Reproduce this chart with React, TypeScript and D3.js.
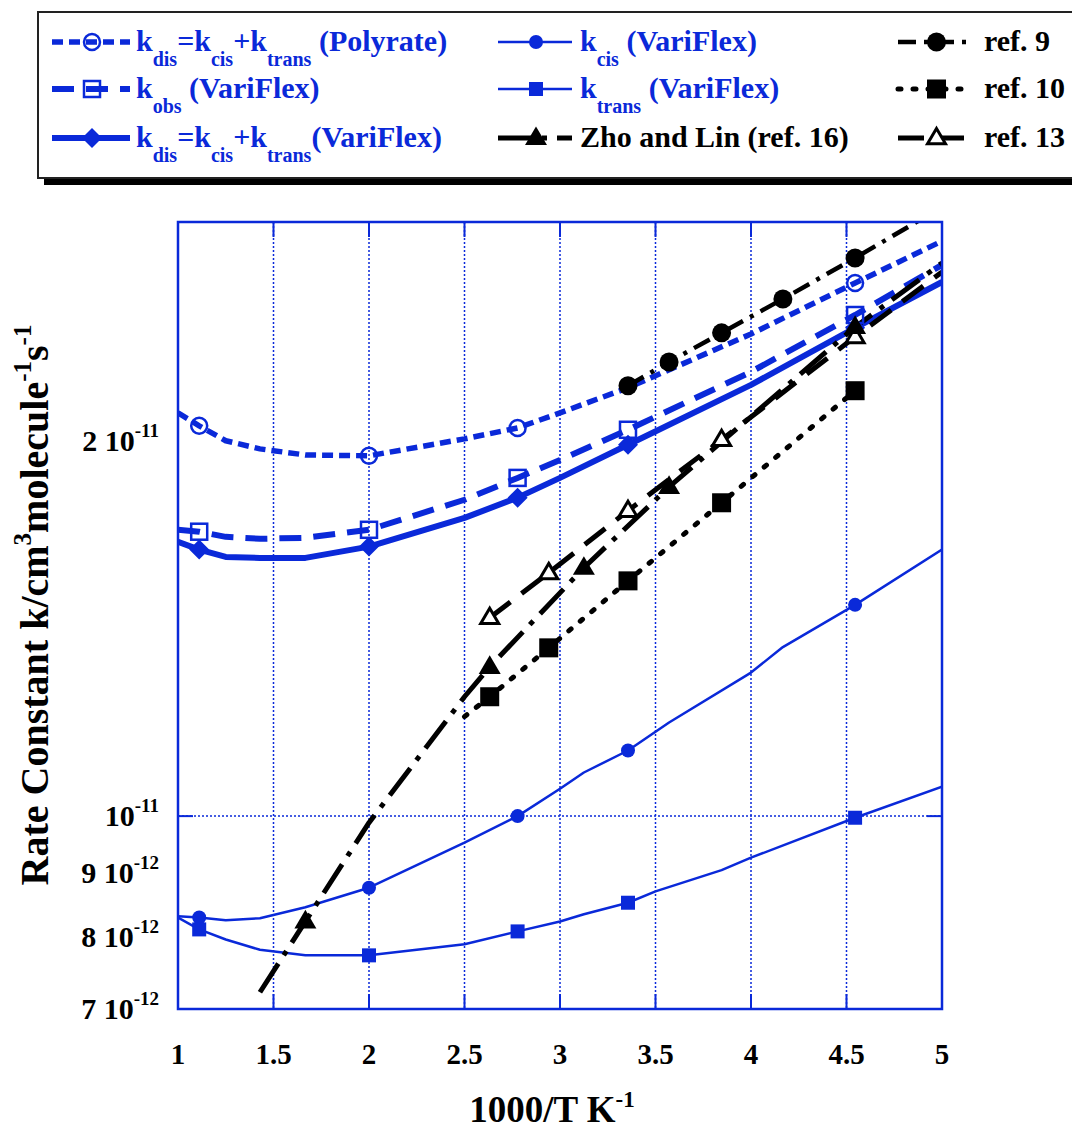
import React from "react";
import * as d3 from "d3";

// x = 1000/T (K^-1), y = rate constant (cm3 molecule-1 s-1)
const polyX = [1.0, 1.111, 1.25, 1.429, 1.667, 2.0, 2.5, 2.778, 3.0, 3.356, 4.0, 4.545, 5.0];
const polyY = [2.108e-11, 2.058e-11, 2.002e-11, 1.972e-11, 1.95e-11, 1.947e-11, 2.009e-11, 2.05e-11, 2.108e-11, 2.208e-11, 2.439e-11, 2.68e-11, 2.896e-11];
const polyMarks = [1.111, 2.0, 2.778, 4.545];

const kobsX = [1.0, 1.111, 1.25, 1.429, 1.667, 2.0, 2.5, 2.778, 3.0, 3.356, 4.0, 4.545, 5.0];
const kobsY = [1.698e-11, 1.692e-11, 1.676e-11, 1.67e-11, 1.673e-11, 1.698e-11, 1.795e-11, 1.869e-11, 1.932e-11, 2.043e-11, 2.274e-11, 2.526e-11, 2.771e-11];
const kobsMarks = [1.111, 2.0, 2.778, 3.356, 4.545];

const kdisX = [1.0, 1.111, 1.25, 1.429, 1.667, 2.0, 2.5, 2.778, 3.0, 3.356, 4.0, 4.545, 5.0];
const kdisY = [1.661e-11, 1.637e-11, 1.615e-11, 1.612e-11, 1.612e-11, 1.646e-11, 1.736e-11, 1.802e-11, 1.869e-11, 1.987e-11, 2.22e-11, 2.467e-11, 2.685e-11];
const kdisMarks = [1.111, 2.0, 2.778, 3.356, 4.545];

const kcisX = [1.0, 1.111, 1.25, 1.429, 1.667, 2.0, 2.5, 2.778, 3.0, 3.125, 3.356, 3.571, 4.0, 4.167, 4.545, 5.0];
const kcisY = [0.831e-11, 0.829e-11, 0.825e-11, 0.828e-11, 0.845e-11, 0.876e-11, 0.952e-11, 1.0e-11, 1.052e-11, 1.084e-11, 1.129e-11, 1.189e-11, 1.304e-11, 1.367e-11, 1.478e-11, 1.637e-11];
const kcisMarks = [1.111, 2.0, 2.778, 3.356, 4.545];

const ktransX = [1.0, 1.111, 1.25, 1.429, 1.667, 2.0, 2.5, 2.778, 3.0, 3.125, 3.356, 3.5, 3.846, 4.0, 4.545, 5.0];
const ktransY = [0.829e-11, 0.811e-11, 0.796e-11, 0.781e-11, 0.773e-11, 0.773e-11, 0.789e-11, 0.808e-11, 0.823e-11, 0.834e-11, 0.852e-11, 0.87e-11, 0.905e-11, 0.926e-11, 0.997e-11, 1.056e-11];
const ktransMarks = [1.111, 2.0, 2.778, 3.356, 4.545];

const ref9X = [3.356, 3.571, 3.846, 4.167, 4.545, 5.0];
const ref9Y = [2.216e-11, 2.316e-11, 2.444e-11, 2.602e-11, 2.807e-11, 3.084e-11];
const ref9Marks = [3.356, 3.571, 3.846, 4.167, 4.545];

const ref10X = [2.5, 2.632, 2.941, 3.356, 3.846, 4.545];
const ref10Y = [1.202e-11, 1.247e-11, 1.365e-11, 1.545e-11, 1.785e-11, 2.196e-11];
const ref10Marks = [2.632, 2.941, 3.356, 3.846, 4.545];

const ref13X = [2.632, 2.941, 3.356, 3.846, 4.545, 5.0];
const ref13Y = [1.443e-11, 1.568e-11, 1.759e-11, 2.006e-11, 2.426e-11, 2.735e-11];
const ref13Marks = [2.632, 2.941, 3.356, 3.846, 4.545];

const ref16X = [1.429, 1.667, 2.0, 2.5, 2.632, 3.125, 3.571, 4.545, 5.0];
const ref16Y = [0.722e-11, 0.823e-11, 0.988e-11, 1.247e-11, 1.318e-11, 1.583e-11, 1.838e-11, 2.471e-11, 2.781e-11];
const ref16Marks = [1.667, 2.632, 3.125, 3.571, 4.545];

const xTicks = [1, 1.5, 2, 2.5, 3, 3.5, 4, 4.5, 5];
const xGrid = [1.5, 2, 2.5, 3, 3.5, 4, 4.5];
const yTickVals = [2e-11, 1e-11, 9e-12, 8e-12, 7e-12];
const yTickMant = ["2 10", "10", "9 10", "8 10", "7 10"];
const yTickExp = ["-11", "-11", "-12", "-12", "-12"];
const yGrid = [1e-11];

const BLUE = "#0a29d9";
const FONT = "'Liberation Serif', 'Times New Roman', serif";

const W = 1072;
const H = 1129;
const plot = { left: 178, right: 942, top: 222, bottom: 1009 };

const x = d3.scaleLinear().domain([1, 5]).range([plot.left, plot.right]);
const y = d3.scaleLog().domain([7e-12, 3e-11]).range([plot.bottom, plot.top]);

type Part = [string, string?];

function Rich({ parts, px, py, size, small, shift, fill, anchor = "start" }: any) {
  let cur = 0;
  return (
    <text x={px} y={py} fontSize={size} fill={fill} textAnchor={anchor} fontFamily={FONT} fontWeight="bold" style={{ whiteSpace: "pre" }}>
      {parts.map((p: Part, i: number) => {
        const target = p[1] === "sub" ? shift : p[1] === "sup" ? -shift : 0;
        const dy = target - cur;
        cur = target;
        return (
          <tspan key={i} dy={dy} fontSize={p[1] ? small : size}>
            {p[0]}
          </tspan>
        );
      })}
    </text>
  );
}

function Marker({ kind, cx, cy, size, fill, stroke, sw }: any) {
  if (kind === "circle") return <circle cx={cx} cy={cy} r={size} fill={fill} stroke={stroke} strokeWidth={sw} />;
  if (kind === "square")
    return <rect x={cx - size} y={cy - size} width={size * 2} height={size * 2} fill={fill} stroke={stroke} strokeWidth={sw} />;
  if (kind === "diamond")
    return <path d={`M${cx},${cy - size}L${cx + size},${cy}L${cx},${cy + size}L${cx - size},${cy}Z`} fill={fill} stroke={stroke} strokeWidth={sw} />;
  const h = size * 1.7;
  return (
    <path
      d={`M${cx},${cy - h * 0.62}L${cx + size},${cy + h * 0.38}L${cx - size},${cy + h * 0.38}Z`}
      fill={fill}
      stroke={stroke}
      strokeWidth={sw}
      strokeLinejoin="miter"
    />
  );
}

const series: any[] = [
  { id: "kcis", xs: kcisX, ys: kcisY, marks: kcisMarks, color: BLUE, width: 2.5, dash: null, cap: "butt", kind: "circle", size: 7, fill: BLUE, sw: 0,
    label: [["k"], ["cis", "sub"], [" (VariFlex)"]] },
  { id: "ktrans", xs: ktransX, ys: ktransY, marks: ktransMarks, color: BLUE, width: 2.5, dash: null, cap: "butt", kind: "square", size: 7, fill: BLUE, sw: 0,
    label: [["k"], ["trans", "sub"], [" (VariFlex)"]] },
  { id: "kdis", xs: kdisX, ys: kdisY, marks: kdisMarks, color: BLUE, width: 6, dash: null, cap: "butt", kind: "diamond", size: 10, fill: BLUE, sw: 0,
    label: [["k"], ["dis", "sub"], ["=k"], ["cis", "sub"], ["+k"], ["trans", "sub"], ["(VariFlex)"]] },
  { id: "kobs", xs: kobsX, ys: kobsY, marks: kobsMarks, color: BLUE, width: 6, dash: "22,12", cap: "butt", kind: "square", size: 8, fill: "none", sw: 2.5,
    label: [["k"], ["obs", "sub"], [" (VariFlex)"]] },
  { id: "poly", xs: polyX, ys: polyY, marks: polyMarks, color: BLUE, width: 5.5, dash: "11,6", cap: "butt", kind: "circle", size: 8, fill: "none", sw: 2.5,
    label: [["k"], ["dis", "sub"], ["=k"], ["cis", "sub"], ["+k"], ["trans", "sub"], [" (Polyrate)"]] },
  { id: "ref10", xs: ref10X, ys: ref10Y, marks: ref10Marks, color: "#000", width: 5, dash: "3,12", cap: "round", kind: "square", size: 9.5, fill: "#000", sw: 0,
    label: [["ref. 10"]] },
  { id: "ref13", xs: ref13X, ys: ref13Y, marks: ref13Marks, color: "#000", width: 5, dash: "26,14", cap: "butt", kind: "triangle", size: 9, fill: "#fff", sw: 3,
    label: [["ref. 13"]] },
  { id: "ref16", xs: ref16X, ys: ref16Y, marks: ref16Marks, color: "#000", width: 5, dash: "34,10,5,10", cap: "butt", kind: "triangle", size: 11, fill: "#000", sw: 0,
    label: [["Zho and Lin (ref. 16)"]] },
  { id: "ref9", xs: ref9X, ys: ref9Y, marks: ref9Marks, color: "#000", width: 4.5, dash: "18,8,4,8", cap: "butt", kind: "circle", size: 9.5, fill: "#000", sw: 0,
    label: [["ref. 9"]] },
];

const byId = (id: string) => series.find((s) => s.id === id);

// legend placement: three columns of three rows
const legendCols = [
  { ids: ["poly", "kobs", "kdis"], x1: 52, x2: 130, tx: 136, fill: BLUE },
  { ids: ["kcis", "ktrans", "ref16"], x1: 498, x2: 572, tx: 580, fill: null },
  { ids: ["ref9", "ref10", "ref13"], x1: 898, x2: 973, tx: 984, fill: "#000" },
];
const legendRows = [42, 89, 138];

export default function App() {
  const line = d3
    .line<[number, number]>()
    .x((d) => x(d[0]))
    .y((d) => y(d[1]));

  return (
    <svg width={W} height={H} style={{ position: "absolute", left: 0, top: 0, background: "#fff" }}>
      <defs>
        <clipPath id="plotClip">
          <rect x={plot.left} y={plot.top} width={plot.right - plot.left} height={plot.bottom - plot.top} />
        </clipPath>
      </defs>

      {/* legend box with drop shadow */}
      <rect x={44} y={18} width={1060} height={167} fill="#000" />
      <rect x={38} y={12} width={1060} height={166} fill="#fff" stroke="#222" strokeWidth={2} />
      {legendCols.map((col, ci) =>
        col.ids.map((id, ri) => {
          const s = byId(id);
          const ly = legendRows[ri];
          const cx = (col.x1 + col.x2) / 2 + 1;
          return (
            <g key={`${ci}-${ri}`}>
              <line x1={col.x1} x2={col.x2} y1={ly} y2={ly} stroke={s.color} strokeWidth={s.width} strokeDasharray={s.dash || undefined} strokeLinecap={s.cap} />
              <Marker kind={s.kind} cx={cx} cy={ly} size={s.size} fill={s.fill} stroke={s.color} sw={s.sw} />
              <Rich parts={s.label} px={col.tx} py={ly + 9} size={30} small={20} shift={15} fill={col.fill || s.color} />
            </g>
          );
        })
      )}

      {/* grid */}
      {xGrid.map((v) => (
        <g key={`gx${v}`}>
          <line x1={x(v)} x2={x(v)} y1={plot.top} y2={plot.bottom} stroke={BLUE} strokeWidth={1.5} strokeDasharray="2,2" />
          <line x1={x(v)} x2={x(v)} y1={plot.bottom} y2={plot.bottom - 15} stroke={BLUE} strokeWidth={2} />
          <line x1={x(v)} x2={x(v)} y1={plot.top} y2={plot.top + 15} stroke={BLUE} strokeWidth={2} />
        </g>
      ))}
      {yGrid.map((v) => (
        <g key={`gy${v}`}>
          <line x1={plot.left} x2={plot.right} y1={y(v)} y2={y(v)} stroke={BLUE} strokeWidth={1.5} strokeDasharray="2,2" />
          <line x1={plot.left} x2={plot.left + 15} y1={y(v)} y2={y(v)} stroke={BLUE} strokeWidth={2} />
          <line x1={plot.right - 15} x2={plot.right} y1={y(v)} y2={y(v)} stroke={BLUE} strokeWidth={2} />
        </g>
      ))}

      {/* series lines */}
      <g clipPath="url(#plotClip)">
        {series.map((s) => (
          <path
            key={s.id}
            d={line(s.xs.map((v: number, i: number) => [v, s.ys[i]]) as [number, number][]) || ""}
            fill="none"
            stroke={s.color}
            strokeWidth={s.width}
            strokeDasharray={s.dash || undefined}
            strokeLinecap={s.cap}
            strokeLinejoin="round"
          />
        ))}
      </g>

      {/* markers */}
      {series.map((s) =>
        s.marks.map((mx: number) => {
          const yi = s.ys[s.xs.indexOf(mx)];
          return <Marker key={`${s.id}${mx}`} kind={s.kind} cx={x(mx)} cy={y(yi)} size={s.size} fill={s.fill} stroke={s.color} sw={s.sw} />;
        })
      )}

      {/* frame */}
      <rect x={plot.left} y={plot.top} width={plot.right - plot.left} height={plot.bottom - plot.top} fill="none" stroke={BLUE} strokeWidth={2.5} />

      {/* tick labels */}
      {xTicks.map((v) => (
        <text key={`xt${v}`} x={x(v)} y={1064} textAnchor="middle" fontSize={29} fontWeight="bold" fontFamily={FONT}>
          {String(v)}
        </text>
      ))}
      {yTickVals.map((v, i) => (
        <Rich key={`yt${v}`} parts={[[yTickMant[i]], [yTickExp[i], "sup"]]} px={159} py={y(v) + 10} size={30} small={19} shift={14} fill="#000" anchor="end" />
      ))}

      {/* axis titles */}
      <Rich parts={[["1000/T K"], ["-1", "sup"]]} px={552} py={1122} size={37} small={23} shift={15} fill="#000" anchor="middle" />
      <g transform="translate(48,605) rotate(-90)">
        <Rich
          parts={[["Rate Constant k/cm"], ["3", "sup"], ["molecule"], ["-1", "sup"], ["s"], ["-1", "sup"]]}
          px={0}
          py={0}
          size={40}
          small={25}
          shift={17}
          fill="#000"
          anchor="middle"
        />
      </g>
    </svg>
  );
}
